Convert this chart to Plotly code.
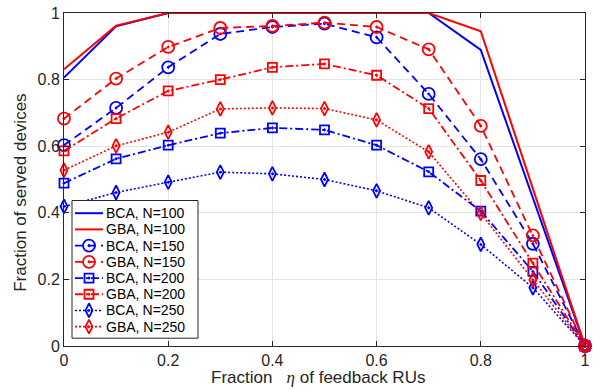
import plotly.graph_objects as go

eta = [0, 0.1, 0.2, 0.3, 0.4, 0.5, 0.6, 0.7, 0.8, 0.9, 1.0]

bca_100 = [0.806, 0.960, 1.0, 1.0, 1.0, 1.0, 1.0, 1.0, 0.889, 0.445, 0.0]
gba_100 = [0.831, 0.962, 1.0, 1.0, 1.0, 1.0, 1.0, 1.0, 0.945, 0.473, 0.0]
bca_150 = [0.603, 0.715, 0.837, 0.937, 0.958, 0.968, 0.927, 0.757, 0.561, 0.307, 0.0]
gba_150 = [0.683, 0.803, 0.898, 0.955, 0.961, 0.971, 0.958, 0.891, 0.661, 0.332, 0.0]
bca_200 = [0.489, 0.562, 0.603, 0.639, 0.655, 0.649, 0.603, 0.523, 0.405, 0.224, 0.0]
gba_200 = [0.586, 0.683, 0.766, 0.800, 0.837, 0.847, 0.813, 0.713, 0.497, 0.249, 0.0]
bca_250 = [0.419, 0.461, 0.492, 0.522, 0.517, 0.500, 0.466, 0.415, 0.305, 0.175, 0.0]
gba_250 = [0.528, 0.601, 0.642, 0.712, 0.715, 0.713, 0.679, 0.583, 0.398, 0.199, 0.0]

legend_names = ["BCA, N=100", "GBA, N=100", "BCA, N=150", "GBA, N=150",
                "BCA, N=200", "GBA, N=200", "BCA, N=250", "GBA, N=250"]

x_ticks = [0, 0.2, 0.4, 0.6, 0.8, 1]
x_tick_labels = ["0", "0.2", "0.4", "0.6", "0.8", "1"]
y_ticks = [0, 0.2, 0.4, 0.6, 0.8, 1]
y_tick_labels = ["0", "0.2", "0.4", "0.6", "0.8", "1"]

BLUE = "#0000FF"
RED = "#FF0000"
FONT = "Liberation Sans, Arial, sans-serif"
TXT = "#262626"

styles = [
    (BLUE, "solid", None, 0, 2),
    (RED, "solid", None, 0, 2),
    (BLUE, "8px,5px", "circle-open-dot", 12, 1.8),
    (RED, "8px,5px", "circle-open-dot", 12, 1.8),
    (BLUE, "8px,3px,2px,3px", "square-open-dot", 9, 1.8),
    (RED, "8px,3px,2px,3px", "square-open-dot", 9, 1.8),
    (BLUE, "2px,2px", "diamond-tall-open-dot", 10, 1.6),
    (RED, "2px,2px", "diamond-tall-open-dot", 10, 1.6),
]
data = [bca_100, gba_100, bca_150, gba_150, bca_200, gba_200, bca_250, gba_250]

fig = go.Figure()
for name, ys, (color, dash, sym, msize, lw) in zip(legend_names, data, styles):
    kw = dict(x=eta, y=ys, name=name, showlegend=False, cliponaxis=False,
              line=dict(color=color, width=lw, dash=dash))
    if sym is None:
        fig.add_trace(go.Scatter(mode="lines", **kw))
    else:
        fig.add_trace(go.Scatter(mode="lines+markers",
                                 marker=dict(symbol=sym, size=msize, color=color,
                                             line=dict(color=color, width=1.8)),
                                 **kw))

# ---- legend drawn in an overlay pixel-space axis ----
PX_L, PX_R, PX_B, PX_T = 64, 585, 346, 5
box_l, box_r, box_t, box_b = 72, 198, 197, 338
row0, row_step = 210, 16.6
samp_l, samp_r, text_x = 75, 103, 104

fig.add_trace(go.Scatter(
    x=[box_l, box_r, box_r, box_l, box_l], y=[box_t, box_t, box_b, box_b, box_t],
    xaxis="x2", yaxis="y2", mode="lines", fill="toself", fillcolor="white",
    line=dict(color=TXT, width=1), showlegend=False, hoverinfo="skip", cliponaxis=False,
))
for i, (name, (color, dash, sym, msize, lw)) in enumerate(zip(legend_names, styles)):
    ry = row0 + i * row_step
    fig.add_trace(go.Scatter(
        x=[samp_l, samp_r], y=[ry, ry], xaxis="x2", yaxis="y2", mode="lines",
        line=dict(color=color, width=lw, dash=dash), showlegend=False,
        hoverinfo="skip", cliponaxis=False,
    ))
    if sym is not None:
        fig.add_trace(go.Scatter(
            x=[(samp_l + samp_r) / 2], y=[ry], xaxis="x2", yaxis="y2", mode="markers",
            marker=dict(symbol=sym, size=msize, color=color, line=dict(color=color, width=1.8)),
            showlegend=False, hoverinfo="skip", cliponaxis=False,
        ))
    fig.add_annotation(
        text=name, xref="x2", yref="y2", x=text_x, y=ry, xanchor="left", yanchor="middle",
        showarrow=False, font=dict(family=FONT, size=14, color="#000000"),
    )

axis_common = dict(
    showgrid=True, gridcolor="#E3E3E3", gridwidth=1,
    showline=True, linecolor=TXT, linewidth=1, mirror="ticks",
    ticks="inside", ticklen=5, tickcolor=TXT,
    zeroline=False, ticklabeloverflow="allow",
    tickfont=dict(family=FONT, size=16, color=TXT),
)

fig.update_xaxes(range=[0, 1], tickvals=x_ticks, ticktext=x_tick_labels, **axis_common)
fig.update_yaxes(range=[0, 1], tickvals=y_ticks, ticktext=y_tick_labels, **axis_common)

fig.add_annotation(
    text='Fraction\u00a0\u00a0\u00a0<span style="font-family:Liberation Serif;font-style:italic">η</span> of feedback RUs',
    xref="paper", yref="paper", x=0.487, y=0.0, yshift=-31, xanchor="center", yanchor="middle",
    showarrow=False, font=dict(family=FONT, size=17, color=TXT),
)
fig.add_annotation(
    text="Fraction of served devices",
    xref="paper", yref="paper", x=0, xshift=-43, y=0.46, xanchor="center", yanchor="middle",
    textangle=-90, showarrow=False, font=dict(family=FONT, size=17, color=TXT),
)

fig.update_layout(
    width=600, height=390,
    margin=dict(l=PX_L, r=600 - PX_R, t=PX_T, b=390 - PX_B),
    paper_bgcolor="white", plot_bgcolor="white",
    showlegend=False,
    xaxis2=dict(overlaying="x", range=[PX_L, PX_R], visible=False, fixedrange=True),
    yaxis2=dict(overlaying="y", range=[PX_B, PX_T], visible=False, fixedrange=True),
    font=dict(family=FONT),
)

fig.write_html("out.html")
